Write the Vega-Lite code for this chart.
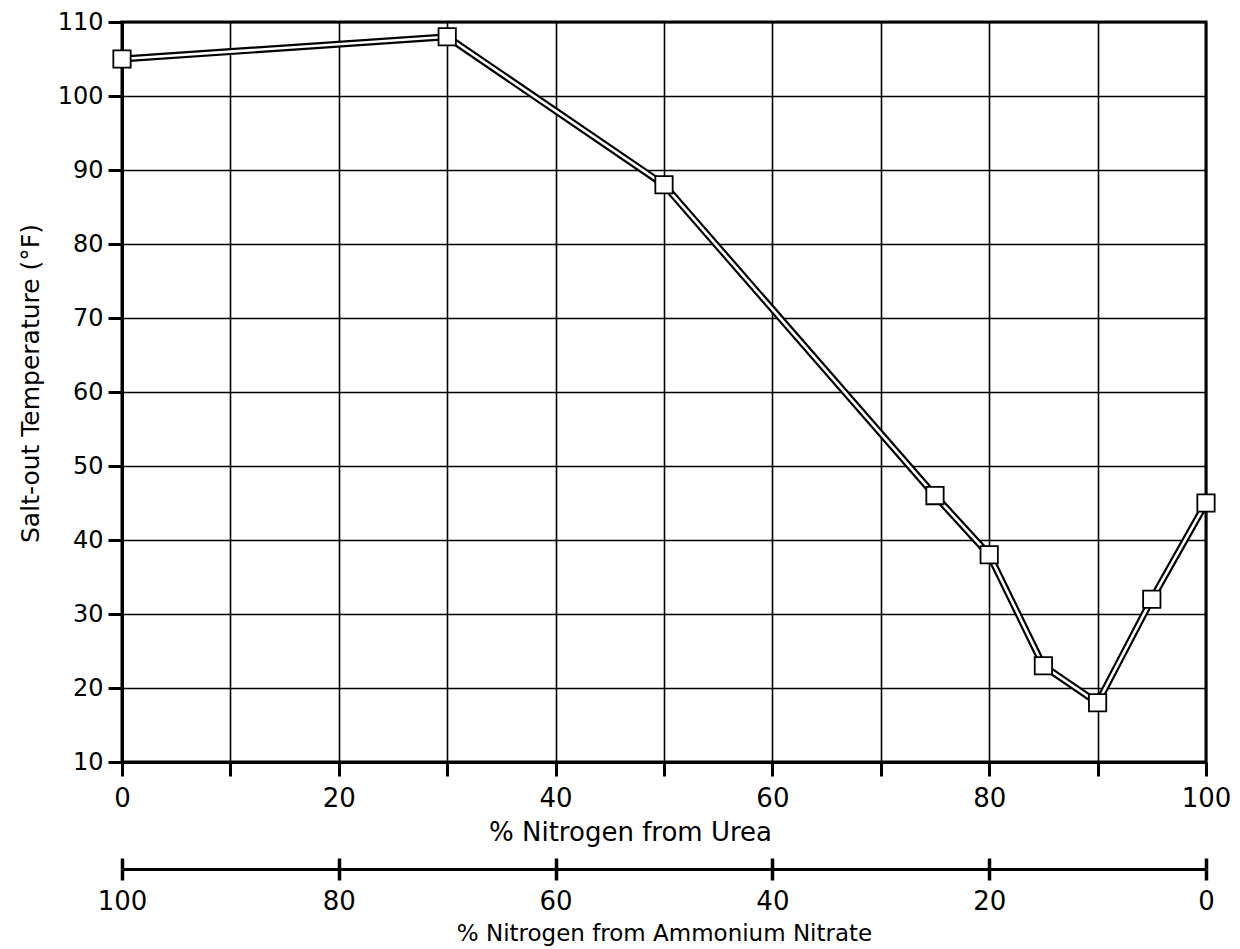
{
  "$schema": "https://vega.github.io/schema/vega-lite/v6.json",
  "autosize": {"type": "none"},
  "padding": {"left": 122, "top": 22, "right": 34, "bottom": 187},
  "width": 1084,
  "height": 740,
  "background": "white",
  "config": {
    "font": "DejaVu Sans",
    "view": {"stroke": "black", "strokeWidth": 3},
    "axis": {"labelFont": "DejaVu Sans", "titleFont": "DejaVu Sans", "labelColor": "black", "titleColor": "black", "titleFontWeight": "normal"}
  },
  "data": {
    "values": [
      {"urea": 0, "an": 100, "temp": 105},
      {"urea": 30, "an": 70, "temp": 108},
      {"urea": 50, "an": 50, "temp": 88},
      {"urea": 75, "an": 25, "temp": 46},
      {"urea": 80, "an": 20, "temp": 38},
      {"urea": 85, "an": 15, "temp": 23},
      {"urea": 90, "an": 10, "temp": 18},
      {"urea": 95, "an": 5, "temp": 32},
      {"urea": 100, "an": 0, "temp": 45}
    ]
  },
  "layer": [
    {
      "encoding": {
        "x": {
          "field": "urea", "type": "quantitative",
          "scale": {"domain": [0, 100], "nice": false, "zero": false},
          "axis": {
            "values": [0, 10, 20, 30, 40, 50, 60, 70, 80, 90, 100],
            "labelExpr": "datum.value % 20 == 0 ? datum.label : ''",
            "title": "% Nitrogen from Urea",
            "titleFontSize": 26,
            "titleX": 508,
            "titleAlign": "center",
            "titleY": 70,
            "titleBaseline": "middle",
            "labelFontSize": 26,
            "labelPadding": 9,
            "tickSize": 14,
            "tickWidth": 3,
            "tickColor": "black",
            "domainColor": "black",
            "domainWidth": 3,
            "grid": true,
            "gridColor": "black",
            "gridWidth": 1.6,
            "gridOpacity": 1,
            "labelFlush": false
          }
        },
        "y": {
          "field": "temp", "type": "quantitative",
          "scale": {"domain": [10, 110], "nice": false, "zero": false},
          "axis": {
            "values": [10, 20, 30, 40, 50, 60, 70, 80, 90, 100, 110],
            "title": "Salt-out Temperature (°F)",
            "titleFontSize": 25,
            "titleX": -92,
            "titleY": 361,
            "titleAngle": -90,
            "titleAlign": "center",
            "titleBaseline": "middle",
            "labelFontSize": 24,
            "labelPadding": 5,
            "tickSize": 14,
            "tickWidth": 3,
            "tickColor": "black",
            "domainColor": "black",
            "domainWidth": 3,
            "grid": true,
            "gridColor": "black",
            "gridWidth": 1.6,
            "gridOpacity": 1,
            "labelFlush": false
          }
        }
      },
      "layer": [
        {"mark": {"type": "line", "color": "black", "strokeWidth": 7}},
        {"mark": {"type": "line", "color": "white", "strokeWidth": 2.6}},
        {"mark": {"type": "point", "shape": "square", "size": 300, "filled": true, "fill": "white", "stroke": "black", "strokeWidth": 1.8, "opacity": 1}}
      ]
    },
    {
      "mark": {"type": "point", "opacity": 0},
      "encoding": {
        "x": {
          "field": "an", "type": "quantitative",
          "scale": {"domain": [0, 100], "nice": false, "zero": false, "reverse": true},
          "axis": {
            "orient": "bottom",
            "offset": 107,
            "values": [0, 20, 40, 60, 80, 100],
            "title": "% Nitrogen from Ammonium Nitrate",
            "titleFontSize": 23,
            "titleY": 64,
            "titleBaseline": "middle",
            "labelFontSize": 26,
            "labelPadding": 8,
            "tickSize": 11,
            "tickWidth": 3.5,
            "tickColor": "black",
            "domainColor": "black",
            "domainWidth": 3,
            "grid": false,
            "labelFlush": false
          }
        }
      }
    },
    {
      "mark": {"type": "point", "opacity": 0},
      "encoding": {
        "x": {
          "field": "an", "type": "quantitative",
          "scale": {"domain": [0, 100], "nice": false, "zero": false, "reverse": true},
          "axis": {
            "orient": "bottom",
            "offset": 96,
            "values": [0, 20, 40, 60, 80, 100],
            "title": null,
            "labels": false,
            "domain": false,
            "tickSize": 11,
            "tickWidth": 3.5,
            "tickColor": "black",
            "grid": false
          }
        }
      }
    }
  ],
  "resolve": {"scale": {"x": "independent"}, "axis": {"x": "independent"}}
}
